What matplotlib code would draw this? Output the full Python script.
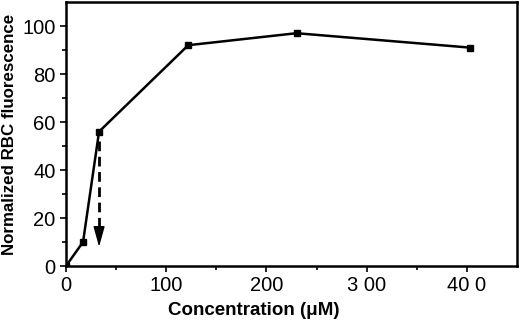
import numpy as np
import matplotlib
matplotlib.use("Agg")
import matplotlib.pyplot as plt

# data
conc = [0, 17, 33, 122, 230, 403]
fluor = [0, 10, 56, 92, 97, 91]
arrow_x = 33
arrow_y = [52, 8]
xticks = [0, 100, 200, 300, 400]
xticklabels = ["0", "100", "200", "3 00", "40 0"]
yticks = [0, 20, 40, 60, 80, 100]

plt.rcParams['font.family'] = ['Liberation Sans', 'DejaVu Sans']

fig = plt.figure(figsize=(5.2, 3.2), dpi=100)
ax = fig.add_axes([66/520, 54/320, 451/520, 264/320])

ax.plot(conc, fluor, color='black', lw=1.8, marker='s', ms=4.5, zorder=3)

# dashed shaft, then a solid head
head_base = arrow_y[1] + 7
ax.plot([arrow_x, arrow_x], [arrow_y[0], head_base], color='black', lw=2,
        dashes=(3.5, 2))
ax.annotate('', xy=(arrow_x, arrow_y[1]), xytext=(arrow_x, head_base),
            arrowprops=dict(arrowstyle='-|>,head_length=0.9,head_width=0.25',
                            color='black', lw=1, mutation_scale=14,
                            shrinkA=0, shrinkB=0))

ax.set_xlim(0, 450)
ax.set_ylim(0, 110)
ax.set_xticks(xticks)
ax.set_xticklabels(xticklabels)
ax.set_xticks(np.arange(50, 450, 100), minor=True)
ax.set_yticks(yticks)
ax.set_yticks(np.arange(10, 110, 20), minor=True)
ax.tick_params(which='both', direction='out', width=1.2, labelsize=14.5)
ax.tick_params(which='major', length=4)
ax.tick_params(which='minor', length=3)
for s in ax.spines.values():
    s.set_linewidth(1.8)

ax.set_xlabel('Concentration (μM)', fontsize=13.5, fontweight='bold', labelpad=3)
ax.xaxis.set_label_coords(0.417, -0.135)
ax.set_ylabel('Normalized RBC fluorescence', fontsize=12.2, fontweight='bold', labelpad=4)

fig.savefig('out.png', dpi=100)
